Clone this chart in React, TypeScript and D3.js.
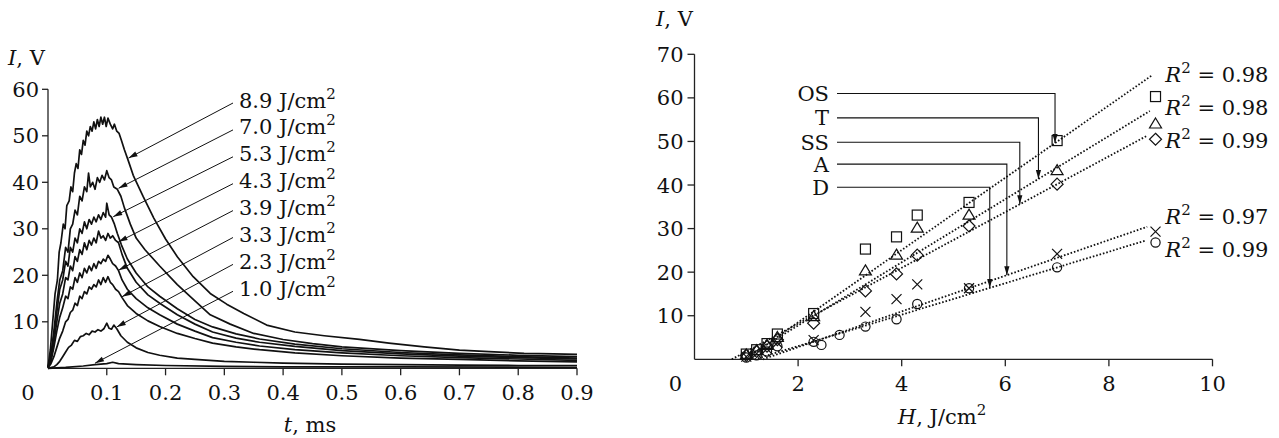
import * as d3 from "d3";

// ---- left panel: signal I (V) vs time t (ms) for several fluences ----
const pulseLabels = ["8.9", "7.0", "5.3", "4.3", "3.9", "3.3", "2.3", "1.0"];

const pulse89: [number, number][] = [
  [0, 0.3], [0.004, 4], [0.008, 10], [0.012, 16], [0.016, 19], [0.019, 25], [0.022, 27],
  [0.026, 31], [0.029, 30], [0.032, 35], [0.036, 36], [0.039, 39], [0.042, 38], [0.045, 42],
  [0.048, 44], [0.051, 43], [0.054, 47], [0.057, 46], [0.06, 49], [0.063, 48], [0.066, 51],
  [0.069, 50], [0.072, 52], [0.075, 51], [0.078, 53], [0.081, 51.5], [0.084, 53.5], [0.087, 52],
  [0.09, 54], [0.093, 52.5], [0.096, 54], [0.099, 52], [0.102, 53.8], [0.106, 52.5], [0.11, 51.5],
  [0.113, 52.5], [0.117, 51], [0.121, 50.5], [0.125, 49], [0.13, 47], [0.137, 44.5], [0.145, 41.5],
  [0.162, 36.9], [0.18, 32.3], [0.2, 27.8], [0.22, 24], [0.247, 19.7], [0.276, 16.1], [0.304, 13.8],
  [0.333, 11.8], [0.372, 9.3], [0.42, 7.8], [0.47, 7], [0.53, 6.2], [0.58, 5.4], [0.64, 4.6],
  [0.7, 3.9], [0.75, 3.6], [0.81, 3.2], [0.86, 3.1], [0.9, 3.0],
];
const pulse70: [number, number][] = [
  [0, 0.2], [0.005, 3], [0.01, 8], [0.015, 14], [0.02, 19], [0.025, 21], [0.03, 26], [0.034, 25],
  [0.038, 30], [0.042, 31], [0.046, 34], [0.05, 33], [0.054, 37], [0.058, 36], [0.062, 39],
  [0.066, 38], [0.069, 42], [0.072, 39], [0.076, 40], [0.08, 38.5], [0.084, 41], [0.088, 40],
  [0.092, 41.5], [0.096, 40.5], [0.1, 42.5], [0.104, 41], [0.108, 40.5], [0.112, 39], [0.118, 38.5],
  [0.124, 37], [0.13, 34.5], [0.14, 31], [0.15, 28], [0.165, 25.5], [0.19, 22], [0.22, 18],
  [0.25, 14.5], [0.276, 11.5], [0.31, 9.5], [0.35, 7.5], [0.4, 6.2], [0.45, 5.3], [0.5, 4.6],
  [0.6, 3.8], [0.7, 3.2], [0.8, 2.8], [0.9, 2.5],
];
const pulse53: [number, number][] = [
  [0, 0.2], [0.005, 2.5], [0.01, 7], [0.015, 12], [0.02, 17], [0.025, 19], [0.03, 23], [0.034, 22],
  [0.038, 26], [0.042, 25], [0.046, 28], [0.05, 27], [0.054, 30], [0.058, 29], [0.062, 31.5],
  [0.066, 30], [0.07, 32], [0.074, 31], [0.078, 32.5], [0.082, 31.5], [0.086, 33], [0.09, 32],
  [0.094, 33.5], [0.098, 32.5], [0.1, 35.5], [0.104, 33], [0.108, 32.5], [0.113, 31], [0.118, 29],
  [0.125, 26.5], [0.135, 23.5], [0.15, 20.5], [0.17, 17.5], [0.19, 15.5], [0.22, 12.8],
  [0.25, 10.5], [0.28, 8.9], [0.32, 7.4], [0.36, 6.3], [0.42, 5.2], [0.5, 4.2], [0.6, 3.4],
  [0.7, 2.9], [0.8, 2.5], [0.9, 2.2],
];
const pulse43: [number, number][] = [
  [0, 0.2], [0.005, 2], [0.01, 5.5], [0.015, 10], [0.02, 14], [0.025, 16], [0.03, 19.5], [0.034, 19],
  [0.038, 22], [0.042, 21], [0.046, 24], [0.05, 23], [0.054, 25.5], [0.058, 24.5], [0.062, 27],
  [0.066, 25.5], [0.07, 27.5], [0.074, 26.5], [0.078, 28], [0.082, 27], [0.086, 29.5], [0.09, 28],
  [0.094, 28.5], [0.098, 27.5], [0.102, 29], [0.106, 28], [0.11, 28.5], [0.115, 27.5], [0.12, 27],
  [0.126, 24.5], [0.135, 21.5], [0.15, 18.5], [0.17, 15.8], [0.19, 14], [0.22, 11.5], [0.25, 9.5],
  [0.28, 7.8], [0.32, 6.5], [0.36, 5.6], [0.42, 4.7], [0.5, 3.8], [0.6, 3.1], [0.7, 2.6],
  [0.8, 2.3], [0.9, 2.0],
];
const pulse39: [number, number][] = [
  [0, 0.2], [0.005, 1.5], [0.01, 4.5], [0.015, 8], [0.02, 11], [0.025, 13], [0.03, 15.5], [0.034, 15],
  [0.038, 17.5], [0.042, 17], [0.046, 19.5], [0.05, 18.5], [0.054, 20.5], [0.058, 19.5], [0.062, 21.5],
  [0.066, 20.5], [0.07, 22], [0.074, 21], [0.078, 22.5], [0.082, 21.5], [0.086, 23], [0.09, 22.5],
  [0.094, 23.5], [0.098, 23], [0.102, 24.3], [0.106, 23.5], [0.11, 22.5], [0.115, 22], [0.12, 21],
  [0.126, 19], [0.135, 17], [0.15, 15], [0.17, 13], [0.19, 11.5], [0.22, 9.5], [0.25, 8],
  [0.28, 6.6], [0.32, 5.6], [0.36, 4.8], [0.42, 4], [0.5, 3.3], [0.6, 2.7], [0.7, 2.3],
  [0.8, 2.0], [0.9, 1.7],
];
const pulse33: [number, number][] = [
  [0, 0.1], [0.005, 1], [0.01, 2.5], [0.015, 4.5], [0.02, 6.5], [0.025, 8], [0.03, 10], [0.034, 10.5],
  [0.038, 12], [0.042, 12.5], [0.046, 14], [0.05, 13.5], [0.054, 15.5], [0.058, 15], [0.062, 16.5],
  [0.066, 16], [0.07, 17.5], [0.074, 17], [0.078, 18], [0.082, 17.5], [0.086, 19], [0.09, 18],
  [0.094, 19.5], [0.098, 18.5], [0.102, 19.7], [0.106, 18.5], [0.11, 18], [0.115, 17], [0.12, 16.5],
  [0.126, 15.2], [0.135, 13.5], [0.15, 11.8], [0.17, 10.2], [0.19, 9], [0.22, 7.5], [0.25, 6.4],
  [0.28, 5.4], [0.32, 4.6], [0.36, 4], [0.42, 3.3], [0.5, 2.7], [0.6, 2.2], [0.7, 1.9],
  [0.8, 1.6], [0.9, 1.4],
];
const pulse23: [number, number][] = [
  [0, 0], [0.01, 0.3], [0.015, 0.8], [0.02, 1.5], [0.025, 2.5], [0.03, 3.5], [0.035, 4.5], [0.04, 5],
  [0.045, 6], [0.05, 5.8], [0.055, 6.8], [0.06, 7], [0.065, 7.5], [0.07, 7.2], [0.075, 8], [0.08, 7.8],
  [0.085, 8.3], [0.09, 8], [0.095, 8.5], [0.1, 9.7], [0.104, 8.6], [0.108, 8.4], [0.112, 9.3],
  [0.117, 8.5], [0.124, 7], [0.135, 5.6], [0.15, 4.4], [0.17, 3.4], [0.19, 2.8], [0.22, 2.2],
  [0.25, 1.9], [0.3, 1.5], [0.35, 1.3], [0.4, 1.1], [0.5, 0.9], [0.6, 0.8], [0.7, 0.7], [0.8, 0.6],
  [0.9, 0.6],
];
const pulse10: [number, number][] = [
  [0, 0], [0.03, 0.2], [0.06, 0.5], [0.08, 0.8], [0.1, 1], [0.11, 1.3], [0.12, 1], [0.15, 0.8],
  [0.2, 0.6], [0.3, 0.4], [0.4, 0.3], [0.6, 0.3], [0.9, 0.2],
];
const pulses = [pulse89, pulse70, pulse53, pulse43, pulse39, pulse33, pulse23, pulse10];
// where each label arrow touches its curve (t, I)
const pulseArrowAt: [number, number][] = [
  [0.137, 45.2], [0.12, 38.7], [0.111, 32.6], [0.12, 27.2], [0.12, 21.1], [0.126, 15.4], [0.117, 8.9], [0.08, 1.1],
];
const timeTicks = [0.1, 0.2, 0.3, 0.4, 0.5, 0.6, 0.7, 0.8, 0.9];
const leftITicks = [10, 20, 30, 40, 50, 60];

// ---- right panel: peak signal vs fluence H for five materials ----
const fluence = [1.0, 1.2, 1.4, 1.6, 2.3, 3.3, 3.9, 4.3, 5.3, 7.0, 8.9];
const peakOS = [1.2, 2.2, 3.6, 5.8, 10.5, 25.3, 28.1, 33.1, 36.0, 50.2, 60.3];
const peakT = [1.0, 2.0, 3.2, 5.0, 9.8, 20.3, 23.9, 30.1, 33.1, 43.3, 54.0];
const peakSS = [0.9, 1.8, 3.0, 4.5, 8.3, 15.7, 19.6, 23.9, 30.6, 40.2, 50.5];
const peakA = [0.6, 1.3, 2.4, 3.8, 4.4, 10.9, 13.8, 17.2, 16.3, 24.2, 29.3];
const peakD = [0.4, 0.9, 1.8, 3.0, 4.0, 7.5, 9.2, 12.7, 16.3, 21.1, 26.8];
const extraDH = [2.45, 2.8];
const extraDI = [3.3, 5.6];
const materials = ["OS", "T", "SS", "A", "D"];
const fitSlope = [8.3, 7.25, 6.4, 4.1, 3.61];
const fitZeroH = [0.98, 0.93, 0.72, 1.32, 1.16];
const fitEndH = [8.84, 8.79, 8.74, 8.74, 8.69];
const rSquared = ["0.98", "0.98", "0.99", "0.97", "0.99"];
const hTicks = [2, 4, 6, 8, 10];
const rightITicks = [10, 20, 30, 40, 50, 60, 70];

const FONT = "'DejaVu Serif', serif";
const FS = 21;
const SUP = 15;

function Marker({ kind, x, y }: { kind: number; x: number; y: number }) {
  const p = { fill: "none", stroke: "#111", strokeWidth: 1.2 };
  if (kind === 0) return <rect x={x - 5} y={y - 5} width={10} height={10} {...p} />;
  if (kind === 1) return <path d={`M${x},${y - 6}L${x + 6},${y + 4}L${x - 6},${y + 4}Z`} {...p} />;
  if (kind === 2) return <path d={`M${x},${y - 6}L${x + 6},${y}L${x},${y + 6}L${x - 6},${y}Z`} {...p} />;
  if (kind === 3) return <path d={`M${x - 5},${y - 5}L${x + 5},${y + 5}M${x + 5},${y - 5}L${x - 5},${y + 5}`} {...p} />;
  return <circle cx={x} cy={y} r={4.6} {...p} />;
}

function arrowHead(x1: number, y1: number, x2: number, y2: number, len = 9, half = 2.6) {
  const a = Math.atan2(y2 - y1, x2 - x1);
  const bx = x2 - len * Math.cos(a);
  const by = y2 - len * Math.sin(a);
  const nx = -Math.sin(a) * half;
  const ny = Math.cos(a) * half;
  return `M${x2},${y2}L${bx + nx},${by + ny}L${bx - nx},${by - ny}Z`;
}

export default function App() {
  // left panel scales
  const xL = d3.scaleLinear().domain([0, 0.9]).range([48, 577]);
  const yL = d3.scaleLinear().domain([0, 60]).range([368.3, 89.3]);
  const line = d3
    .line<[number, number]>()
    .x((d) => xL(d[0]))
    .y((d) => yL(d[1]));

  // right panel scales
  const xR = d3.scaleLinear().domain([0, 10]).range([694.5, 1212.5]);
  const yR = d3.scaleLinear().domain([0, 70]).range([359.3, 54.3]);
  const peaks = [peakOS, peakT, peakSS, peakA, peakD];

  const labelX = 239;
  const labelTop = 100;
  const labelStep = 26.9;

  // materials labels on the right panel, in signal units
  const matLabelI = [61.0, 55.4, 49.8, 44.8, 39.5];
  const matTargetH = [6.96, 6.64, 6.28, 6.03, 5.7];
  const rLabelI = [65.3, 57.7, 50.3, 32.7, 25.1];

  return (
    <svg
      width={1279}
      height={438}
      style={{ position: "absolute", left: 0, top: 0, background: "#fff" }}
      fontFamily={FONT}
      fontSize={FS}
      fill="#111"
    >
      {/* ===== left panel ===== */}
      <g stroke="#222" strokeWidth={1.3}>
        <line x1={xL(0)} x2={xL(0.9)} y1={yL(0)} y2={yL(0)} />
        <line x1={xL(0)} x2={xL(0)} y1={yL(0)} y2={yL(60)} />
        {timeTicks.map((t) => (
          <line key={t} x1={xL(t)} x2={xL(t)} y1={yL(0)} y2={yL(0) + 7} />
        ))}
        {leftITicks.map((v) => (
          <line key={v} x1={xL(0) - 6} x2={xL(0)} y1={yL(v)} y2={yL(v)} />
        ))}
      </g>
      {leftITicks.map((v) => (
        <text key={v} x={xL(0) - 9} y={yL(v)} dy="0.36em" textAnchor="end">
          {v}
        </text>
      ))}
      {timeTicks.map((t) => (
        <text key={t} x={xL(t)} y={yL(0) + 32} textAnchor="middle">
          {t.toFixed(1)}
        </text>
      ))}
      <text x={xL(0) - 20} y={yL(0) + 32} textAnchor="middle">0</text>
      <text x={310} y={432} textAnchor="middle">
        <tspan fontStyle="italic">t</tspan>, ms
      </text>
      <text x={8} y={65}>
        <tspan fontStyle="italic">I</tspan>, V
      </text>

      <g fill="none" stroke="#111" strokeWidth={1.7} strokeLinejoin="round">
        {pulses.map((p, i) => (
          <path key={i} d={line(p) ?? ""} />
        ))}
      </g>

      {pulseLabels.map((lab, i) => {
        const ly = labelTop + i * labelStep;
        const sx = labelX - 6;
        const sy = ly + 3;
        const [tt, ti] = pulseArrowAt[i];
        const tx = xL(tt);
        const ty = yL(ti);
        return (
          <g key={lab}>
            <line x1={sx} y1={sy} x2={tx} y2={ty} stroke="#111" strokeWidth={1} />
            <path d={arrowHead(sx, sy, tx, ty)} fill="#111" />
            <text x={labelX} y={ly} dy="0.36em">
              {lab} J/cm
              <tspan dy={-9} fontSize={SUP}>2</tspan>
            </text>
          </g>
        );
      })}

      {/* ===== right panel ===== */}
      <g stroke="#222" strokeWidth={1.3}>
        <line x1={xR(0)} x2={xR(10)} y1={yR(0)} y2={yR(0)} />
        <line x1={xR(0)} x2={xR(0)} y1={yR(0)} y2={yR(70)} />
        {hTicks.map((h) => (
          <line key={h} x1={xR(h)} x2={xR(h)} y1={yR(0)} y2={yR(0) + 7} />
        ))}
        {rightITicks.map((v) => (
          <line key={v} x1={xR(0) - 7} x2={xR(0)} y1={yR(v)} y2={yR(v)} />
        ))}
      </g>
      {rightITicks.map((v) => (
        <text key={v} x={xR(0) - 11} y={yR(v)} dy="0.36em" textAnchor="end">
          {v}
        </text>
      ))}
      {hTicks.map((h) => (
        <text key={h} x={xR(h)} y={yR(0) + 32} textAnchor="middle">
          {h}
        </text>
      ))}
      <text x={xR(0) - 19} y={yR(0) + 32} textAnchor="middle">0</text>
      <text x={942} y={424} textAnchor="middle">
        <tspan fontStyle="italic">H</tspan>, J/cm
        <tspan dy={-9} fontSize={SUP}>2</tspan>
      </text>
      <text x={656} y={26}>
        <tspan fontStyle="italic">I</tspan>, V
      </text>

      {/* fit lines */}
      <g fill="none" stroke="#111" strokeWidth={1.8} strokeDasharray="1.6 1.9">
        {materials.map((m, i) => (
          <line
            key={m}
            x1={xR(fitZeroH[i])}
            y1={yR(0)}
            x2={xR(fitEndH[i])}
            y2={yR(fitSlope[i] * (fitEndH[i] - fitZeroH[i]))}
          />
        ))}
      </g>

      {/* points */}
      {peaks.map((vals, k) =>
        vals.map((v, j) => <Marker key={`${k}-${j}`} kind={k} x={xR(fluence[j])} y={yR(v)} />)
      )}
      {extraDH.map((h, j) => (
        <Marker key={`e${j}`} kind={4} x={xR(h)} y={yR(extraDI[j])} />
      ))}

      {/* material callouts */}
      {materials.map((m, i) => {
        const ly = yR(matLabelI[i]);
        const tx = xR(matTargetH[i]);
        const ty = yR(fitSlope[i] * (matTargetH[i] - fitZeroH[i]));
        return (
          <g key={m}>
            <path d={`M${837},${ly}H${tx}V${ty}`} fill="none" stroke="#111" strokeWidth={1.1} />
            <path d={arrowHead(tx, ly, tx, ty)} fill="#111" />
            <text x={829} y={ly} dy="0.36em" textAnchor="end">
              {m}
            </text>
          </g>
        );
      })}

      {rSquared.map((r, i) => (
        <text key={i} x={xR(9.09)} y={yR(rLabelI[i])} dy="0.36em">
          <tspan fontStyle="italic">R</tspan>
          <tspan dy={-9} fontSize={SUP}>2</tspan>
          <tspan dy={9}> = {r}</tspan>
        </text>
      ))}
    </svg>
  );
}
